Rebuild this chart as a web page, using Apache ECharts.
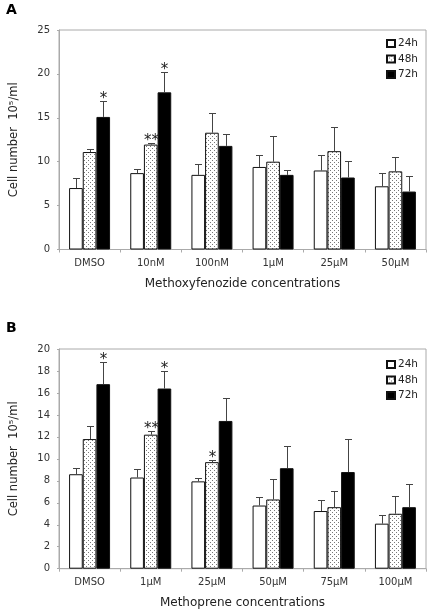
<!DOCTYPE html>
<html><head><meta charset="utf-8">
<script src="https://cdn.jsdelivr.net/npm/echarts@6/dist/echarts.min.js"></script>
<style>html,body{margin:0;padding:0;background:#fff}#c{width:430px;height:611px}</style>
</head><body><div id="c"></div>
<script>
// ---- Data ----
const categoriesA = ['DMSO', '10nM', '100nM', '1μM', '25μM', '50μM'];
const categoriesB = ['DMSO', '1μM', '25μM', '50μM', '75μM', '100μM'];
const seriesNames = ['24h', '48h', '72h'];

const valuesA24 = [7.0, 8.7, 8.5, 9.4, 9.0, 7.2];
const valuesA48 = [11.1, 11.95, 13.3, 10.0, 11.2, 8.9];
const valuesA72 = [15.1, 17.9, 11.8, 8.5, 8.2, 6.6];
const sdA24 = [1.2, 0.5, 1.2, 1.4, 1.8, 1.5];
const sdA48 = [0.3, 0.15, 2.3, 2.9, 2.7, 1.6];
const sdA72 = [1.8, 2.3, 1.3, 0.6, 1.9, 1.8];
const sigA24 = ['', '', '', '', '', ''];
const sigA48 = ['', '**', '', '', '', ''];
const sigA72 = ['*', '*', '', '', '', ''];

const valuesB24 = [8.6, 8.3, 7.95, 5.75, 5.25, 4.1];
const valuesB48 = [11.8, 12.2, 9.7, 6.3, 5.6, 5.0];
const valuesB72 = [16.8, 16.4, 13.45, 9.15, 8.8, 5.6];
const sdB24 = [0.55, 0.75, 0.35, 0.75, 1.0, 0.8];
const sdB48 = [1.15, 0.3, 0.15, 1.9, 1.5, 1.65];
const sdB72 = [2.0, 1.6, 2.05, 2.05, 3.05, 2.15];
const sigB24 = ['', '', '', '', '', ''];
const sigB48 = ['', '**', '*', '', '', ''];
const sigB72 = ['*', '*', '', '', '', ''];

const yTicksA = {min: 0, max: 25, interval: 5};
const yTicksB = {min: 0, max: 20, interval: 2};

// ---- Styles ----
const FONT = 'DejaVu Sans';
function dotPattern() {
  const c = document.createElement('canvas');
  c.width = 4; c.height = 4;
  const g = c.getContext('2d');
  g.fillStyle = '#ffffff'; g.fillRect(0, 0, 4, 4);
  g.fillStyle = '#777777';
  g.fillRect(0, 0, 1, 1);
  g.fillRect(2, 2, 1, 1);
  return {image: c, repeat: 'repeat'};
}
const fills = ['#ffffff', dotPattern(), '#000000'];

const chart = echarts.init(document.getElementById('c'), null, {renderer: 'canvas'});

function buildPanel(gi, cats, vals, sds, sigs) {
  const bars = vals.map((v, k) => ({
    name: seriesNames[k], type: 'bar', xAxisIndex: gi, yAxisIndex: gi,
    data: v, barGap: '0%', barCategoryGap: '33%',
    itemStyle: {color: fills[k], borderColor: '#111', borderWidth: 1},
    emphasis: {disabled: true}, animation: false
  }));
  const errData = [];
  const sigList = [];
  for (let k = 0; k < 3; k++) {
    for (let i = 0; i < cats.length; i++) {
      errData.push([i, k, vals[k][i], vals[k][i] + sds[k][i]]);
      sigList.push(sigs[k][i]);
    }
  }
  const err = {
    type: 'custom', xAxisIndex: gi, yAxisIndex: gi, data: errData,
    encode: {x: 0, y: 3}, animation: false, silent: true, z: 5,
    renderItem: function (params, api) {
      const i = api.value(0), k = api.value(1), v = api.value(2), t = api.value(3);
      const band = api.size([1, 0])[0];
      const bw = band * 0.67 / 3;
      const c0 = api.coord([i, v]);
      const c1 = api.coord([i, t]);
      const x = Math.round(c0[0] + (k - 1) * bw) + 0.5;
      const y0 = c0[1], y1 = Math.round(c1[1]) + 0.5;
      const children = [
        {type: 'line', shape: {x1: x, y1: y0, x2: x, y2: y1}, style: {stroke: '#444', lineWidth: 1}},
        {type: 'line', shape: {x1: x - 3.5, y1: y1, x2: x + 3.5, y2: y1}, style: {stroke: '#444', lineWidth: 1}}
      ];
      const s = sigList[params.dataIndex];
      if (s) {
        children.push({type: 'text', style: {text: s, x: x, y: y1 + 5, align: 'center', verticalAlign: 'bottom',
          font: '15px ' + FONT, fill: '#222'}});
      }
      return {type: 'group', children: children};
    }
  };
  return bars.concat([err]);
}

const axisLabelStyle = {fontFamily: FONT, fontSize: 10, color: '#333'};
function xAxis(gi, cats, name) {
  return {
    type: 'category', gridIndex: gi, data: cats,
    axisLine: {lineStyle: {color: '#aaa'}},
    axisTick: {show: true, length: 3, lineStyle: {color: '#aaa'}},
    axisLabel: Object.assign({margin: 9}, axisLabelStyle),
    name: name, nameLocation: 'middle', nameGap: 28,
    nameTextStyle: {fontFamily: FONT, fontSize: 12, color: '#222'}
  };
}
function yAxis(gi, t) {
  return {
    type: 'value', gridIndex: gi, min: t.min, max: t.max, interval: t.interval,
    splitLine: {show: false},
    axisLine: {show: true, lineStyle: {color: '#aaa'}},
    axisTick: {show: true, length: 2, lineStyle: {color: '#aaa'}},
    axisLabel: Object.assign({margin: 9}, axisLabelStyle),
    name: 'Cell number  10⁵/ml', nameLocation: 'middle', nameGap: 39,
    nameTextStyle: {fontFamily: FONT, fontSize: 11.5, color: '#222'}
  };
}
function legend(top) {
  return {
    data: seriesNames, orient: 'vertical', left: 381, top: top,
    itemWidth: 8, itemHeight: 7, itemGap: 4.5, selectedMode: false,
    textStyle: {fontFamily: FONT, fontSize: 10.5, color: '#222', padding: [0, 0, 0, -2]},
    icon: 'rect'
  };
}

chart.setOption({
  animation: false,
  graphic: [
    {type: 'text', left: 6, top: 3, style: {text: 'A', font: 'bold 14px ' + FONT, fill: '#000'}},
    {type: 'text', left: 6, top: 321, style: {text: 'B', font: 'bold 14px ' + FONT, fill: '#000'}}
  ],
  grid: [
    {left: 59, right: 4, top: 30, height: 219.5, show: true, borderColor: '#aaa', borderWidth: 1, backgroundColor: 'transparent', containLabel: false, outerBoundsMode: 'none'},
    {left: 59, right: 4, top: 349, height: 219.7, show: true, borderColor: '#aaa', borderWidth: 1, backgroundColor: 'transparent', containLabel: false, outerBoundsMode: 'none'}
  ],
  legend: [legend(33), legend(354)],
  xAxis: [xAxis(0, categoriesA, 'Methoxyfenozide concentrations'), xAxis(1, categoriesB, 'Methoprene concentrations')],
  yAxis: [yAxis(0, yTicksA), yAxis(1, yTicksB)],
  series: buildPanel(0, categoriesA, [valuesA24, valuesA48, valuesA72], [sdA24, sdA48, sdA72], [sigA24, sigA48, sigA72])
    .concat(buildPanel(1, categoriesB, [valuesB24, valuesB48, valuesB72], [sdB24, sdB48, sdB72], [sigB24, sigB48, sigB72]))
});
</script></body></html>
